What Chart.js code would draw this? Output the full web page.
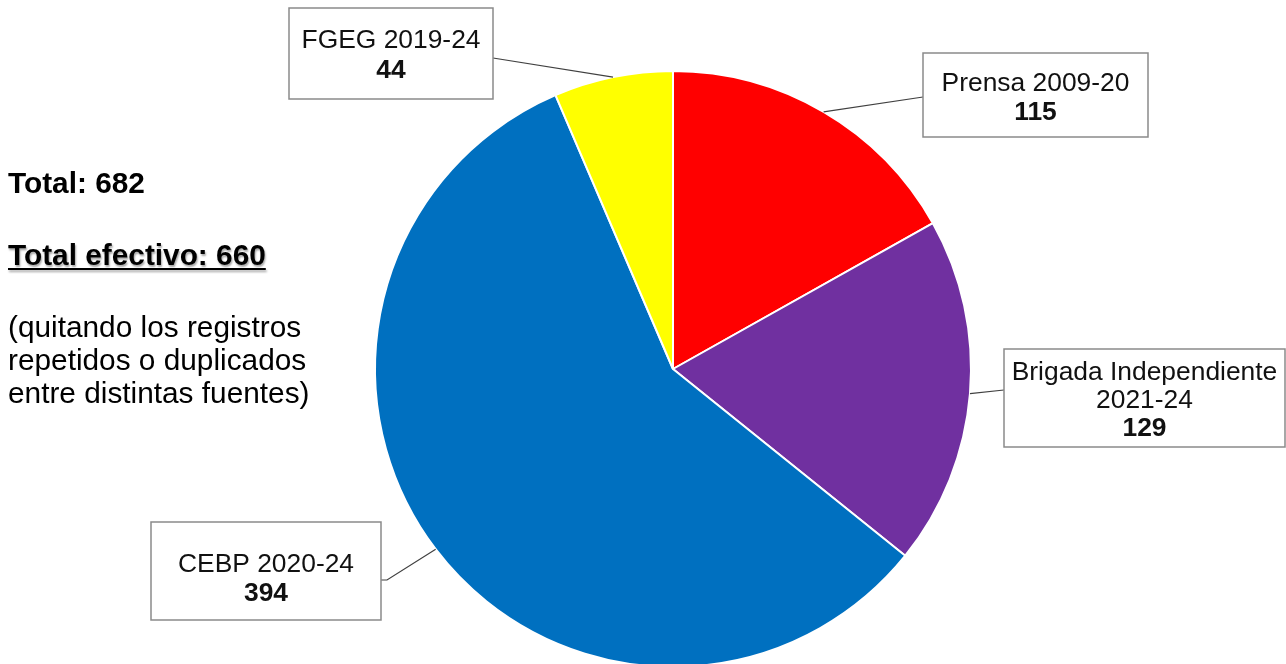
<!DOCTYPE html>
<html>
<head>
<meta charset="utf-8">
<script src="https://cdn.jsdelivr.net/npm/chart.js@4"></script>
<style>
  html, body { margin: 0; padding: 0; background: #fff; overflow: hidden; width: 1286px; height: 664px; }
  #wrap { position: relative; width: 1286px; height: 664px; overflow: hidden; }
  #grafico { position: absolute; left: 0; top: 0; }
  .nota { position: absolute; left: 8px; font-family: 'Liberation Sans', Arial, sans-serif; font-size: 29.8px; color: #000; white-space: nowrap; line-height: 33px; }
  .negrita { font-weight: bold; }
  .subrayado { text-decoration: underline; text-shadow: 1px 2px 2px rgba(0,0,0,0.35); text-underline-offset: 3px; }
</style>
</head>
<body>
<div id="wrap">
  <canvas id="grafico" width="1286" height="740"></canvas>
  <div class="nota negrita" style="top:166px">Total: 682</div>
  <div class="nota negrita subrayado" style="top:238px">Total efectivo: 660</div>
  <div class="nota" style="top:310px">(quitando los registros<br>repetidos o duplicados<br>entre distintas fuentes)</div>
</div>
<script>
// Datos del gráfico
var fuentes = ['Prensa 2009-20', 'Brigada Independiente 2021-24', 'CEBP 2020-24', 'FGEG 2019-24'];
var registros = [115, 129, 394, 44];
var colores = ['#FF0000', '#7030A0', '#0070C0', '#FFFF00'];

// Líneas de texto de cada etiqueta (el nombre puede ir en dos líneas)
var lineasEtiqueta = [
    ['Prensa 2009-20'],
    ['Brigada Independiente', '2021-24'],
    ['CEBP 2020-24'],
    ['FGEG 2019-24']
];

// Posición de las cajas de etiqueta (x, y, ancho, alto, primera línea base, interlineado, punto de anclaje)
var cajas = [
    { x: 923, y: 53, w: 225, h: 84, base: 91, paso: 29, anclaje: [[923, 97]] },
    { x: 1004, y: 349, w: 281, h: 98, base: 380, paso: 28, anclaje: [[1004, 390]] },
    { x: 151, y: 522, w: 230, h: 98, base: 572, paso: 29, anclaje: [[387, 580], [381, 580]] },
    { x: 289, y: 8, w: 204, h: 91, base: 48, paso: 30, anclaje: [[493, 58]] }
];

var fuente = "'Liberation Sans', Arial, sans-serif";

var etiquetasPlugin = {
    id: 'etiquetas',
    afterDraw: function(chart) {
        var ctx = chart.ctx;
        var arcos = chart.getDatasetMeta(0).data;
        ctx.save();
        arcos.forEach(function(arco, i) {
            var caja = cajas[i];
            var angulo = (arco.startAngle + arco.endAngle) / 2;
            var r = arco.outerRadius;
            var px = arco.x + Math.cos(angulo) * r;
            var py = arco.y + Math.sin(angulo) * r;

            // Línea guía
            ctx.beginPath();
            ctx.moveTo(px, py);
            caja.anclaje.forEach(function(p) { ctx.lineTo(p[0], p[1]); });
            ctx.strokeStyle = '#404040';
            ctx.lineWidth = 1.2;
            ctx.stroke();

            // Caja
            ctx.fillStyle = '#ffffff';
            ctx.fillRect(caja.x, caja.y, caja.w, caja.h);
            ctx.strokeStyle = '#8a8a8a';
            ctx.lineWidth = 1.5;
            ctx.strokeRect(caja.x, caja.y, caja.w, caja.h);

            // Texto
            var cx = caja.x + caja.w / 2;
            var lineas = lineasEtiqueta[i];
            ctx.fillStyle = '#111111';
            ctx.textAlign = 'center';
            ctx.textBaseline = 'alphabetic';
            ctx.font = '26.4px ' + fuente;
            var y = caja.base;
            lineas.forEach(function(t) {
                ctx.fillText(t, cx, y);
                y += caja.paso;
            });
            ctx.font = 'bold 26.4px ' + fuente;
            ctx.fillText(String(registros[i]), cx, y);
        });
        ctx.restore();
    }
};

var ctx = document.getElementById('grafico').getContext('2d');
var miGrafico = new Chart(ctx, {
    type: 'pie',
    data: {
        labels: fuentes,
        datasets: [{
            data: registros,
            backgroundColor: colores,
            borderColor: '#ffffff',
            borderWidth: 2
        }]
    },
    options: {
        responsive: false,
        animation: false,
        events: [],
        layout: {
            padding: { left: 374, right: 314, top: 70, bottom: 72 }
        },
        plugins: {
            legend: { display: false },
            tooltip: { enabled: false }
        }
    },
    plugins: [etiquetasPlugin]
});
</script>
</body>
</html>
